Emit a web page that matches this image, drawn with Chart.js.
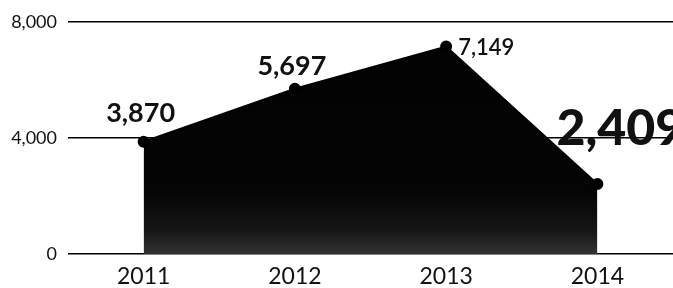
<!DOCTYPE html>
<html>
<head>
<meta charset="utf-8">
<script src="https://cdn.jsdelivr.net/npm/chart.js@4/dist/chart.umd.min.js"></script>
<style>
  html, body { margin: 0; padding: 0; background: #fff; overflow: hidden; }
  #wrap { width: 673px; height: 288px; position: relative; }
  canvas { display: block; }
</style>
</head>
<body>
<div id="wrap"><canvas id="c" width="673" height="288"></canvas></div>
<script>
const years = ['2011', '2012', '2013', '2014'];
const counts = [3870, 5697, 7149, 2409];
const yTicks = [0, 4000, 8000];

// label styling per point (not data)
const labelStyles = [
  { font: '700 27px Lato', dx: -3, dy: -20, align: 'center' },
  { font: '700 27px Lato', dx: -3, dy: -14, align: 'center' },
  { font: '600 22px Lato', dx: 12, dy: 8, align: 'left' },
  { font: '900 50px Lato', dx: -41, dy: -39, align: 'left' }
];

const fmt = v => v.toLocaleString('en-US');

const labelPlugin = {
  id: 'pointLabels',
  afterDatasetsDraw(chart) {
    const ctx = chart.ctx;
    const meta = chart.getDatasetMeta(0);
    ctx.save();
    ctx.fillStyle = '#111';
    ctx.textBaseline = 'alphabetic';
    meta.data.forEach((pt, i) => {
      const s = labelStyles[i];
      ctx.font = s.font;
      ctx.textAlign = s.align;
      ctx.fillText(fmt(counts[i]), pt.x + s.dx, pt.y + s.dy);
    });
    ctx.restore();
  }
};

function areaFill(context) {
  const chart = context.chart;
  const a = chart.chartArea;
  if (!a) return '#050505';
  const g = chart.ctx.createLinearGradient(0, a.top, 0, a.bottom);
  g.addColorStop(0, '#020202');
  g.addColorStop(0.74, '#050505');
  g.addColorStop(0.9, '#161616');
  g.addColorStop(1, '#333333');
  return g;
}

new Chart(document.getElementById('c'), {
  type: 'line',
  data: {
    labels: years,
    datasets: [{
      data: counts,
      fill: 'origin',
      backgroundColor: areaFill,
      borderColor: '#000',
      borderWidth: 2,
      pointRadius: 5,
      pointBackgroundColor: '#000',
      pointBorderColor: '#000',
      tension: 0
    }]
  },
  options: {
    responsive: false,
    animation: false,
    layout: { autoPadding: false, padding: { top: 12, right: 0, bottom: 0, left: 0 } },
    plugins: { legend: { display: false }, tooltip: { enabled: false } },
    scales: {
      x: {
        offset: true,
        grid: { display: false, drawTicks: false },
        border: { display: false },
        afterFit(scale) { scale.height = 34; scale.paddingLeft = 0; scale.paddingRight = 0; },
        ticks: { color: '#111', font: { family: 'Lato', size: 23 }, padding: 9, maxRotation: 0 }
      },
      y: {
        min: 0, max: 8000,
        afterBuildTicks(scale) { scale.ticks = yTicks.map(v => ({ value: v })); },
        afterFit(scale) { scale.width = 68; },
        grid: { color: '#000', lineWidth: 1.5, drawTicks: false },
        border: { display: false },
        ticks: { color: '#111', font: { family: 'Lato', size: 18 }, padding: 11, callback: v => fmt(v) }
      }
    }
  },
  plugins: [labelPlugin]
});
</script>
</body>
</html>
